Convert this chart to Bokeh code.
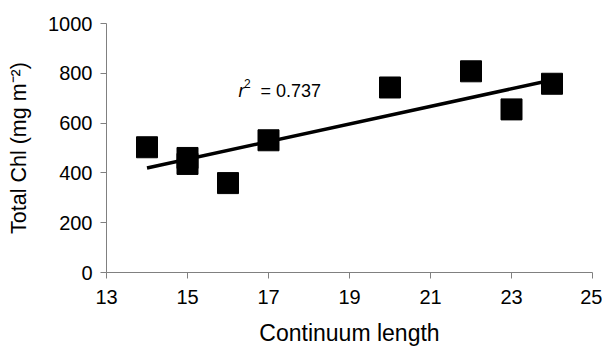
from bokeh.plotting import figure
from bokeh.models import Range1d, FixedTicker, Label
from bokeh.embed import file_html
from bokeh.resources import INLINE

# Data
cont_length = [14, 15, 15, 16, 17, 20, 22, 23, 24]
total_chl = [503, 460, 436, 359, 531, 743, 808, 655, 758]
fit_x = [14, 24]
fit_y = [420, 773]
x_ticks = [13, 15, 17, 19, 21, 23, 25]
y_ticks = [0, 200, 400, 600, 800, 1000]

FONT = "Liberation Sans"

p = figure(width=602, height=348, output_backend="svg", toolbar_location=None,
           x_range=Range1d(13, 25), y_range=Range1d(0, 1000),
           min_border_left=106, min_border_right=10, min_border_top=23, min_border_bottom=76)
p.background_fill_color = "white"
p.border_fill_color = "white"
p.outline_line_color = None
p.xgrid.visible = False
p.ygrid.visible = False

p.line(fit_x, fit_y, line_color="black", line_width=3.5)
p.scatter(cont_length, total_chl, marker="square", size=21, fill_color="black", line_color="black")

for ax, ticks in ((p.xaxis[0], x_ticks), (p.yaxis[0], y_ticks)):
    ax.ticker = FixedTicker(ticks=ticks)
    ax.axis_line_color = "#808080"
    ax.major_tick_line_color = "#808080"
    ax.major_tick_out = 6
    ax.major_tick_in = 0
    ax.minor_tick_line_color = None
    ax.major_label_text_font = FONT
    ax.major_label_text_font_size = "20px"
    ax.major_label_text_color = "black"
    ax.axis_label_text_font = FONT
    ax.axis_label_text_font_style = "normal"
    ax.axis_label_text_color = "black"

p.xaxis[0].axis_label = "Continuum length"
p.xaxis[0].axis_label_text_font_size = "23px"
p.xaxis[0].major_label_standoff = 11
p.xaxis[0].axis_label_standoff = 13
p.yaxis[0].axis_label = "Total Chl (mg m\u207b\u00b2)"
p.yaxis[0].axis_label_text_font_size = "21.5px"
p.yaxis[0].major_label_standoff = 8
p.yaxis[0].axis_label_standoff = 14

# r^2 annotation
ax_x, ax_y = 16.26, 730
p.add_layout(Label(x=ax_x, y=ax_y, text="r", text_font=FONT, text_font_size="18px",
                   text_font_style="italic", text_baseline="alphabetic", text_color="black"))
p.add_layout(Label(x=ax_x, y=ax_y, x_offset=5.5, y_offset=7, text="2", text_font=FONT,
                   text_font_size="12px", text_baseline="alphabetic", text_color="black"))
p.add_layout(Label(x=ax_x, y=ax_y, x_offset=22, text="= 0.737", text_font=FONT,
                   text_font_size="18px", text_baseline="alphabetic", text_color="black"))

open("out.html", "w").write(file_html(p, INLINE))
